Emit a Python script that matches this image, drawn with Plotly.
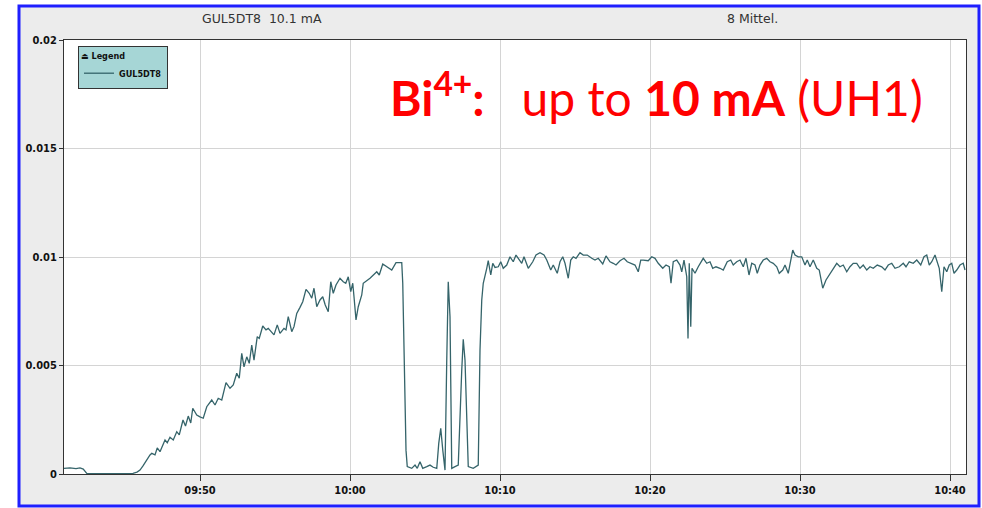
import plotly.graph_objects as go

# ---- data ----
times = [
    "09:40:56", "09:41:20", "09:41:44", "09:42:00", "09:42:13", "09:42:27", "09:43:20", "09:44:40",
    "09:45:32", "09:45:48", "09:46:00", "09:46:12", "09:46:27", "09:46:40", "09:46:47", "09:47:00",
    "09:47:09", "09:47:20", "09:47:40", "09:47:49", "09:48:00", "09:48:13", "09:48:27", "09:48:37",
    "09:48:52", "09:49:02", "09:49:13", "09:49:23", "09:49:31", "09:49:47", "09:50:00", "09:50:13",
    "09:50:27", "09:50:47", "09:51:00", "09:51:13", "09:51:27", "09:51:44", "09:52:00", "09:52:13",
    "09:52:27", "09:52:37", "09:52:47", "09:52:56", "09:53:07", "09:53:17", "09:53:27", "09:53:36",
    "09:53:49", "09:53:57", "09:54:11", "09:54:24", "09:54:33", "09:54:43", "09:54:56", "09:55:09",
    "09:55:20", "09:55:36", "09:55:44", "09:55:53", "09:56:07", "09:56:16", "09:56:27", "09:56:40",
    "09:56:51", "09:57:04", "09:57:17", "09:57:27", "09:57:36", "09:57:47", "09:58:00", "09:58:11",
    "09:58:21", "09:58:33", "09:58:43", "09:58:53", "09:59:04", "09:59:20", "09:59:33", "09:59:43",
    "09:59:53", "10:00:03", "10:00:11", "10:00:16", "10:00:24", "10:00:33", "10:00:47", "10:00:53",
    "10:01:20", "10:01:47", "10:01:57", "10:02:11", "10:02:27", "10:02:47", "10:03:04", "10:03:27",
    "10:03:31", "10:03:36", "10:03:44", "10:03:49", "10:04:07", "10:04:20", "10:04:29", "10:04:40",
    "10:04:51", "10:05:07", "10:05:20", "10:05:33", "10:05:47", "10:05:55", "10:06:03", "10:06:11",
    "10:06:20", "10:06:27", "10:06:33", "10:06:40", "10:06:47", "10:07:00", "10:07:13", "10:07:27",
    "10:07:33", "10:07:40", "10:07:47", "10:07:53", "10:08:13", "10:08:33", "10:08:40", "10:08:47",
    "10:08:53", "10:09:00", "10:09:07", "10:09:13", "10:09:23", "10:09:31", "10:09:40", "10:09:53",
    "10:10:03", "10:10:13", "10:10:27", "10:10:40", "10:10:53", "10:11:04", "10:11:17", "10:11:27",
    "10:11:36", "10:11:53", "10:12:11", "10:12:24", "10:12:40", "10:12:56", "10:13:07", "10:13:23",
    "10:13:33", "10:13:49", "10:14:00", "10:14:11", "10:14:20", "10:14:33", "10:14:43", "10:14:53",
    "10:15:04", "10:15:20", "10:15:33", "10:15:49", "10:16:07", "10:16:20", "10:16:33", "10:16:51",
    "10:17:04", "10:17:20", "10:17:33", "10:17:44", "10:18:00", "10:18:16", "10:18:29", "10:18:43",
    "10:19:00", "10:19:13", "10:19:23", "10:19:33", "10:19:53", "10:20:07", "10:20:20", "10:20:33",
    "10:20:51", "10:21:04", "10:21:17", "10:21:24", "10:21:33", "10:21:47", "10:22:00", "10:22:07",
    "10:22:16", "10:22:27", "10:22:32", "10:22:37", "10:22:43", "10:22:48", "10:23:00", "10:23:13",
    "10:23:27", "10:23:33", "10:23:47", "10:24:00", "10:24:11", "10:24:24", "10:24:40", "10:24:53",
    "10:25:09", "10:25:23", "10:25:33", "10:25:47", "10:26:00", "10:26:13", "10:26:24", "10:26:36",
    "10:26:47", "10:27:00", "10:27:09", "10:27:20", "10:27:33", "10:27:47", "10:28:00", "10:28:13",
    "10:28:27", "10:28:37", "10:28:51", "10:29:00", "10:29:13", "10:29:31", "10:29:40", "10:29:53",
    "10:30:07", "10:30:20", "10:30:29", "10:30:40", "10:30:53", "10:31:07", "10:31:17", "10:31:31",
    "10:31:44", "10:32:00", "10:32:13", "10:32:27", "10:32:40", "10:32:53", "10:33:07", "10:33:20",
    "10:33:33", "10:33:47", "10:34:00", "10:34:13", "10:34:27", "10:34:40", "10:34:53", "10:35:09",
    "10:35:27", "10:35:40", "10:35:53", "10:36:07", "10:36:20", "10:36:37", "10:36:53", "10:37:04",
    "10:37:17", "10:37:33", "10:37:47", "10:38:03", "10:38:16", "10:38:27", "10:38:37", "10:38:47",
    "10:39:00", "10:39:09", "10:39:17", "10:39:27", "10:39:36", "10:39:47", "10:39:57", "10:40:07",
    "10:40:16", "10:40:27", "10:40:40", "10:40:53", "10:41:00",
]

current_A = [
    0.00026, 0.00028, 0.00025, 0.00028, 0.00023, 0.00003, 0.00002, 0.00002,
    0.00003, 0.00009, 0.00018, 0.00037, 0.00065, 0.00088, 0.00095, 0.00088,
    0.00120, 0.00103, 0.00157, 0.00144, 0.00169, 0.00157, 0.00195, 0.00180,
    0.00249, 0.00221, 0.00267, 0.00235, 0.00303, 0.00272, 0.00263, 0.00257,
    0.00310, 0.00341, 0.00318, 0.00349, 0.00341, 0.00421, 0.00395, 0.00410,
    0.00464, 0.00441, 0.00556, 0.00494, 0.00540, 0.00510, 0.00594, 0.00525,
    0.00633, 0.00625, 0.00682, 0.00664, 0.00671, 0.00656, 0.00641, 0.00687,
    0.00648, 0.00671, 0.00664, 0.00725, 0.00656, 0.00679, 0.00740, 0.00768,
    0.00794, 0.00851, 0.00833, 0.00810, 0.00856, 0.00771, 0.00802, 0.00817,
    0.00779, 0.00748, 0.00886, 0.00833, 0.00871, 0.00902, 0.00886, 0.00879,
    0.00909, 0.00840, 0.00879, 0.00817, 0.00710, 0.00771, 0.00825, 0.00879,
    0.00902, 0.00932, 0.00917, 0.00968, 0.00955, 0.00940, 0.00974, 0.00974,
    0.00879, 0.00510, 0.00110, 0.00034, 0.00026, 0.00041, 0.00026, 0.00057,
    0.00026, 0.00034, 0.00041, 0.00031, 0.00026, 0.00141, 0.00211, 0.00111,
    0.00018, 0.00525, 0.00886, 0.00725, 0.00026, 0.00034, 0.00041, 0.00479,
    0.00621, 0.00525, 0.00264, 0.00034, 0.00026, 0.00041, 0.00571, 0.00802,
    0.00879, 0.00909, 0.00948, 0.00983, 0.00917, 0.00971, 0.00952, 0.00955,
    0.00978, 0.00948, 0.00963, 0.01001, 0.00978, 0.01009, 0.00986, 0.00971,
    0.01001, 0.00948, 0.00978, 0.01009, 0.01020, 0.01009, 0.00986, 0.00940,
    0.00963, 0.00925, 0.00978, 0.01001, 0.00971, 0.00902, 0.00986, 0.01001,
    0.00994, 0.01020, 0.01009, 0.01009, 0.00994, 0.00986, 0.00994, 0.00968,
    0.01005, 0.00978, 0.00971, 0.00963, 0.00983, 0.00994, 0.00978, 0.00971,
    0.00963, 0.00932, 0.00986, 0.00986, 0.00983, 0.01001, 0.00994, 0.00971,
    0.00948, 0.00963, 0.00955, 0.00879, 0.00978, 0.00986, 0.00963, 0.00932,
    0.00986, 0.00909, 0.00625, 0.00971, 0.00679, 0.00948, 0.00925, 0.00955,
    0.00986, 0.00994, 0.00971, 0.00978, 0.00948, 0.00955, 0.00948, 0.00940,
    0.00978, 0.00986, 0.00963, 0.00978, 0.00986, 0.00955, 0.00994, 0.00917,
    0.00971, 0.00963, 0.00925, 0.00963, 0.00986, 0.00994, 0.00978, 0.00971,
    0.00955, 0.00925, 0.00940, 0.00963, 0.00925, 0.01032, 0.01009, 0.01001,
    0.01001, 0.00963, 0.00986, 0.00955, 0.00986, 0.00948, 0.00940, 0.00856,
    0.00894, 0.00925, 0.00948, 0.00971, 0.00955, 0.00963, 0.00932, 0.00955,
    0.00971, 0.00971, 0.00948, 0.00963, 0.00940, 0.00955, 0.00948, 0.00963,
    0.00955, 0.00940, 0.00963, 0.00971, 0.00948, 0.00955, 0.00971, 0.00955,
    0.00978, 0.00971, 0.00986, 0.00963, 0.01001, 0.01009, 0.00963, 0.00978,
    0.01009, 0.00978, 0.00948, 0.00840, 0.00955, 0.00932, 0.00963, 0.00971,
    0.00925, 0.00940, 0.00963, 0.00971, 0.00940,
]

DAY = "2013-01-01 "
x_start, x_end = "09:40:56", "10:41:04"
x_ticks = ["09:50", "10:00", "10:10", "10:20", "10:30", "10:40"]
y_ticks = [0, 0.005, 0.01, 0.015, 0.02]
y_tick_text = ["0", "0.005", "0.01", "0.015", "0.02"]

series_name = "GUL5DT8"
header_left = "GUL5DT8&nbsp;&nbsp;10.1 mA"
header_right = "8 Mittel."
headline = "<b>Bi<sup>4+</sup>:</b>&nbsp;&nbsp;&nbsp;up to <b>10 mA</b> (UH1)"

# ---- geometry helpers (pixel -> paper) ----
W, H = 982, 508
L, R, T, B = 64, 966, 40, 474
def px(x):
    return (x - L) / (R - L)
def py(y):
    return (B - y) / (B - T)

COND = "DejaVu Sans Condensed, DejaVu Sans, sans-serif"
tick_font = dict(family=COND, size=11, color="#111", weight="bold")

fig = go.Figure()
fig.add_trace(go.Scatter(
    x=[DAY + t for t in times], y=current_A, mode="lines", name=series_name,
    line=dict(color="#35646a", width=1.3),
))

fig.update_layout(
    width=W, height=H,
    margin=dict(l=L, r=W - R, t=T, b=H - B),
    paper_bgcolor="white", plot_bgcolor="white",
    showlegend=True,
    legend=dict(
        x=px(78), y=py(46), xanchor="left", yanchor="top",
        bgcolor="#a6d6d6", bordercolor="#333", borderwidth=1,
        font=dict(family=COND, size=9, color="#111", weight="bold"),
        title=dict(text="⏏ Legend", font=dict(family=COND, size=9, color="#111", weight="bold")),
        itemwidth=30, tracegroupgap=0,
    ),
    xaxis=dict(
        type="date",
        range=[DAY + x_start, DAY + x_end],
        tickvals=[DAY + t for t in x_ticks], ticktext=x_ticks,
        showgrid=True, gridcolor="#d4d4d4", gridwidth=1,
        showline=True, linecolor="#333", linewidth=1, mirror=True,
        ticks="outside", ticklen=6, tickcolor="#333",
        tickfont=tick_font, zeroline=False,
    ),
    yaxis=dict(
        range=[0, 0.02],
        tickvals=y_ticks, ticktext=y_tick_text,
        showgrid=True, gridcolor="#d4d4d4", gridwidth=1,
        showline=True, linecolor="#333", linewidth=1, mirror=True,
        ticks="outside", ticklen=4, tickcolor="#333",
        tickfont=tick_font, zeroline=False,
    ),
    shapes=[
        dict(type="rect", xref="paper", yref="paper", layer="below",
             x0=px(19), x1=px(979), y0=py(506), y1=py(6),
             fillcolor="#ececec", line=dict(color="#1f1fff", width=3)),
        dict(type="rect", xref="paper", yref="paper", layer="below",
             x0=0, x1=1, y0=0, y1=1, fillcolor="white", line=dict(width=0)),
    ],
    annotations=[
        dict(text=header_left, xref="paper", yref="paper", x=px(262), y=py(18),
             showarrow=False, xanchor="center", yanchor="middle",
             font=dict(family="DejaVu Sans, sans-serif", size=12.5, color="#333")),
        dict(text=header_right, xref="paper", yref="paper", x=px(752), y=py(18),
             showarrow=False, xanchor="center", yanchor="middle",
             font=dict(family="DejaVu Sans, sans-serif", size=12.5, color="#333")),
        dict(text=headline, xref="paper", yref="paper",
             x=px(388), y=py(95), showarrow=False, xanchor="left", yanchor="middle",
             font=dict(family="Lato, Open Sans, sans-serif", size=48, color="#ff0000")),
    ],
)

fig.write_html("out.html", config={"displayModeBar": False},
               post_script="document.body.style.margin='0';")
